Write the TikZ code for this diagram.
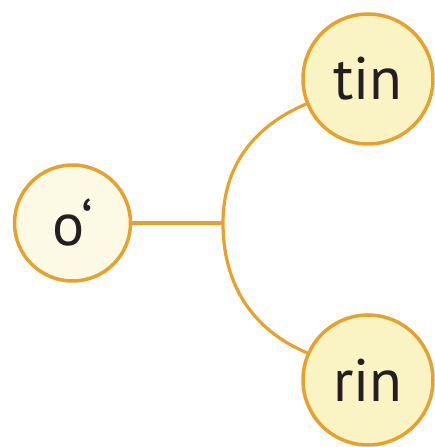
\documentclass[tikz,border=0pt]{standalone}
\usepackage{fontspec}
\setmainfont{PT Sans}
\usepackage{xcolor}
\usetikzlibrary{positioning, calc}

\definecolor{ringorange}{RGB}{233,161,45}
\definecolor{softyellow}{RGB}{250,243,196}
\definecolor{paleyellow}{RGB}{252,249,228}
\definecolor{inkgray}{RGB}{35,31,32}

\begin{document}
\begin{tikzpicture}[
    x=1pt, y=1pt,
    syl/.style={circle, draw=ringorange, line width=3.5pt, inner sep=0pt,
                font=\fontsize{60}{60}\selectfont, text=inkgray},
    rootsyl/.style={syl, fill=paleyellow, minimum size=116pt},
    leafsyl/.style={syl, fill=softyellow, minimum size=130pt},
    arr/.style={draw=ringorange, line width=3.2pt},
]
\useasboundingbox (0,0) rectangle (435,447);

% === Nodes ===
\node[rootsyl] (o) at (72.5,224) {o‘};
\node[leafsyl] (tin) at (368,368) {tin};
\node[leafsyl] (rin) at (368,67) {rin};

% === Branch ===
\coordinate (fork) at (223,224);
\draw[arr] (o.east) -- (fork);
\draw[arr] (tin.202) to[out=203, in=90] (fork) to[out=270, in=157] (rin.156);

\end{tikzpicture}
\end{document}
